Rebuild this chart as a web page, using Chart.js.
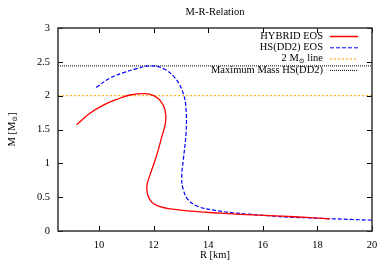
<!DOCTYPE html>
<html>
<head>
<meta charset="utf-8">
<script src="https://cdn.jsdelivr.net/npm/chart.js@4.4.0/dist/chart.umd.min.js"></script>
<style>
  html, body { margin: 0; padding: 0; background: #fff; }
  #wrap { width: 379px; height: 264px; }
</style>
</head>
<body>
<div id="wrap"><canvas id="mr"></canvas></div>
<script>
// values
const hybridR = [9.18, 9.67, 10.16, 10.65, 11.14, 11.7, 12.0, 12.24, 12.42, 12.44, 12.3, 12.1, 11.87, 11.76, 11.77, 11.87, 12.02, 12.24, 12.55, 12.97, 13.5, 14.18, 15.0, 15.8, 16.7, 17.6, 18.46];
const hybridM = [1.57, 1.74, 1.86, 1.945, 2.01, 2.03, 2.0, 1.93, 1.79, 1.61, 1.39, 1.10, 0.83, 0.68, 0.56, 0.46, 0.40, 0.36, 0.33, 0.31, 0.29, 0.27, 0.25, 0.235, 0.22, 0.20, 0.18];
const dd2R = [9.9, 10.4, 10.9, 11.38, 11.87, 12.36, 12.79, 13.09, 13.19, 13.19, 13.09, 13.03, 13.09, 13.27, 13.64, 14.32, 14.9, 15.42, 16.1, 16.7, 17.6, 18.6, 19.3, 20.0];
const dd2M = [2.12, 2.26, 2.34, 2.40, 2.44, 2.40, 2.26, 2.03, 1.79, 1.45, 1.05, 0.80, 0.61, 0.46, 0.36, 0.30, 0.27, 0.25, 0.23, 0.21, 0.195, 0.18, 0.17, 0.16];
const twoSolarM = 2.0;
const maxMassDD2 = 2.44;
const xTicks = [10, 12, 14, 16, 18, 20];
const yTicks = [0, 0.5, 1, 1.5, 2, 2.5, 3];
const xRange = [8.5, 20];
const yRange = [0, 3];

const serif = "'Liberation Serif', 'DejaVu Serif', serif";
const fs = 10.5;
const pts = (xs, ys) => xs.map((x, i) => ({ x: x, y: ys[i] }));

// legend rows: label parts, colour, dash
const legendRows = [
  { parts: [["HYBRID EOS", false]], color: "#ff0000", dash: [] },
  { parts: [["HS(DD2) EOS", false]], color: "#0000ff", dash: [4, 2] },
  { parts: [["2 M", false], ["\u2299", true], [" line", false]], color: "#ffa500", dash: [2, 2] },
  { parts: [["Maximum Mass HS(DD2)", false]], color: "#000000", dash: [1, 1] }
];

const noPad = s => { s.paddingLeft = 0; s.paddingRight = 0; s.paddingTop = 0; s.paddingBottom = 0; };

const gnuplotLook = {
  id: "gnuplotLook",
  afterDraw(chart) {
    const ctx = chart.ctx;
    const a = chart.chartArea;
    const xs = chart.scales.x, ys = chart.scales.y;
    const big = fs + "px " + serif, small = "7px " + serif;
    ctx.save();
    // inward ticks on all four sides
    ctx.strokeStyle = "#000";
    ctx.lineWidth = 1;
    ctx.beginPath();
    xTicks.forEach(v => {
      const p = Math.round(xs.getPixelForValue(v)) + 0.5;
      ctx.moveTo(p, a.bottom); ctx.lineTo(p, a.bottom - 5);
      ctx.moveTo(p, a.top); ctx.lineTo(p, a.top + 5);
    });
    yTicks.forEach(v => {
      const p = Math.round(ys.getPixelForValue(v)) + 0.5;
      ctx.moveTo(a.left, p); ctx.lineTo(a.left + 5, p);
      ctx.moveTo(a.right, p); ctx.lineTo(a.right - 5, p);
    });
    ctx.stroke();
    ctx.strokeStyle = "#333";
    ctx.lineWidth = 1.5;
    ctx.strokeRect(a.left, a.top, a.right - a.left, a.bottom - a.top);

    // titles
    ctx.fillStyle = "#000";
    ctx.font = big;
    ctx.textAlign = "center";
    ctx.textBaseline = "middle";
    const cx = (a.left + a.right) / 2;
    ctx.fillText("M-R-Relation", cx, 12);
    ctx.fillText("R [km]", cx, 255);
    ctx.save();
    ctx.translate(12, (a.top + a.bottom) / 2);
    ctx.rotate(-Math.PI / 2);
    ctx.textAlign = "left";
    const w1 = ctx.measureText("M [M").width;
    ctx.font = small;
    const w2 = ctx.measureText("\u2299").width;
    ctx.font = big;
    const w3 = ctx.measureText("]").width;
    let x0 = -(w1 + w2 + w3) / 2;
    ctx.fillText("M [M", x0, 0);
    ctx.font = small;
    ctx.fillText("\u2299", x0 + w1, 3);
    ctx.font = big;
    ctx.fillText("]", x0 + w1 + w2, 0);
    ctx.restore();

    // legend inside the plot, top right
    const textRight = 323, lineL = 330, lineR = 358;
    legendRows.forEach((row, i) => {
      const y = 36 + i * 11.3;
      let total = 0;
      row.parts.forEach(([t, sub]) => {
        ctx.font = sub ? small : big;
        total += ctx.measureText(t).width;
      });
      let x = textRight - total;
      ctx.textAlign = "left";
      row.parts.forEach(([t, sub]) => {
        ctx.font = sub ? small : big;
        ctx.fillText(t, x, sub ? y + 3 : y);
        x += ctx.measureText(t).width;
      });
      ctx.strokeStyle = row.color;
      ctx.lineWidth = i === 0 ? 1.5 : 1;
      ctx.setLineDash(row.dash);
      ctx.beginPath();
      ctx.moveTo(lineL, y + 0.5); ctx.lineTo(lineR, y + 0.5);
      ctx.stroke();
      ctx.setLineDash([]);
    });
    ctx.restore();
  }
};

new Chart(document.getElementById("mr"), {
  type: "scatter",
  data: {
    datasets: [
      { label: "HYBRID EOS", data: pts(hybridR, hybridM), showLine: true, borderColor: "#ff0000", borderWidth: 1.3, pointRadius: 0, tension: 0.4 },
      { label: "HS(DD2) EOS", data: pts(dd2R, dd2M), showLine: true, borderColor: "#0000ff", borderWidth: 1.2, borderDash: [4, 2], pointRadius: 0, tension: 0.4 },
      { label: "2 M line", data: pts(xRange, [twoSolarM, twoSolarM]), showLine: true, borderColor: "#ffa500", borderWidth: 1, borderDash: [2, 2], pointRadius: 0 },
      { label: "Maximum Mass HS(DD2)", data: pts(xRange, [maxMassDD2, maxMassDD2]), showLine: true, borderColor: "#000000", borderWidth: 1, borderDash: [1, 1], pointRadius: 0 }
    ]
  },
  options: {
    responsive: true,
    maintainAspectRatio: false,
    animation: false,
    layout: { padding: { top: 28, right: 7, left: 0, bottom: 0 } },
    plugins: { legend: { display: false }, title: { display: false }, tooltip: { enabled: false } },
    scales: {
      x: {
        type: "linear", min: xRange[0], max: xRange[1],
        afterBuildTicks: s => { s.ticks = xTicks.map(v => ({ value: v })); },
        afterFit: s => { s.height = 33; noPad(s); },
        grid: { display: false, drawTicks: false },
        border: { display: false },
        ticks: { padding: 8, color: "#000", font: { family: serif, size: fs }, callback: v => String(v) }
      },
      y: {
        type: "linear", min: yRange[0], max: yRange[1],
        afterBuildTicks: s => { s.ticks = yTicks.map(v => ({ value: v })); },
        afterFit: s => { s.width = 58; noPad(s); },
        grid: { display: false, drawTicks: false },
        border: { display: false },
        ticks: { padding: 8, color: "#000", font: { family: serif, size: fs }, callback: v => String(v) }
      }
    }
  },
  plugins: [gnuplotLook]
});
</script>
</body>
</html>
